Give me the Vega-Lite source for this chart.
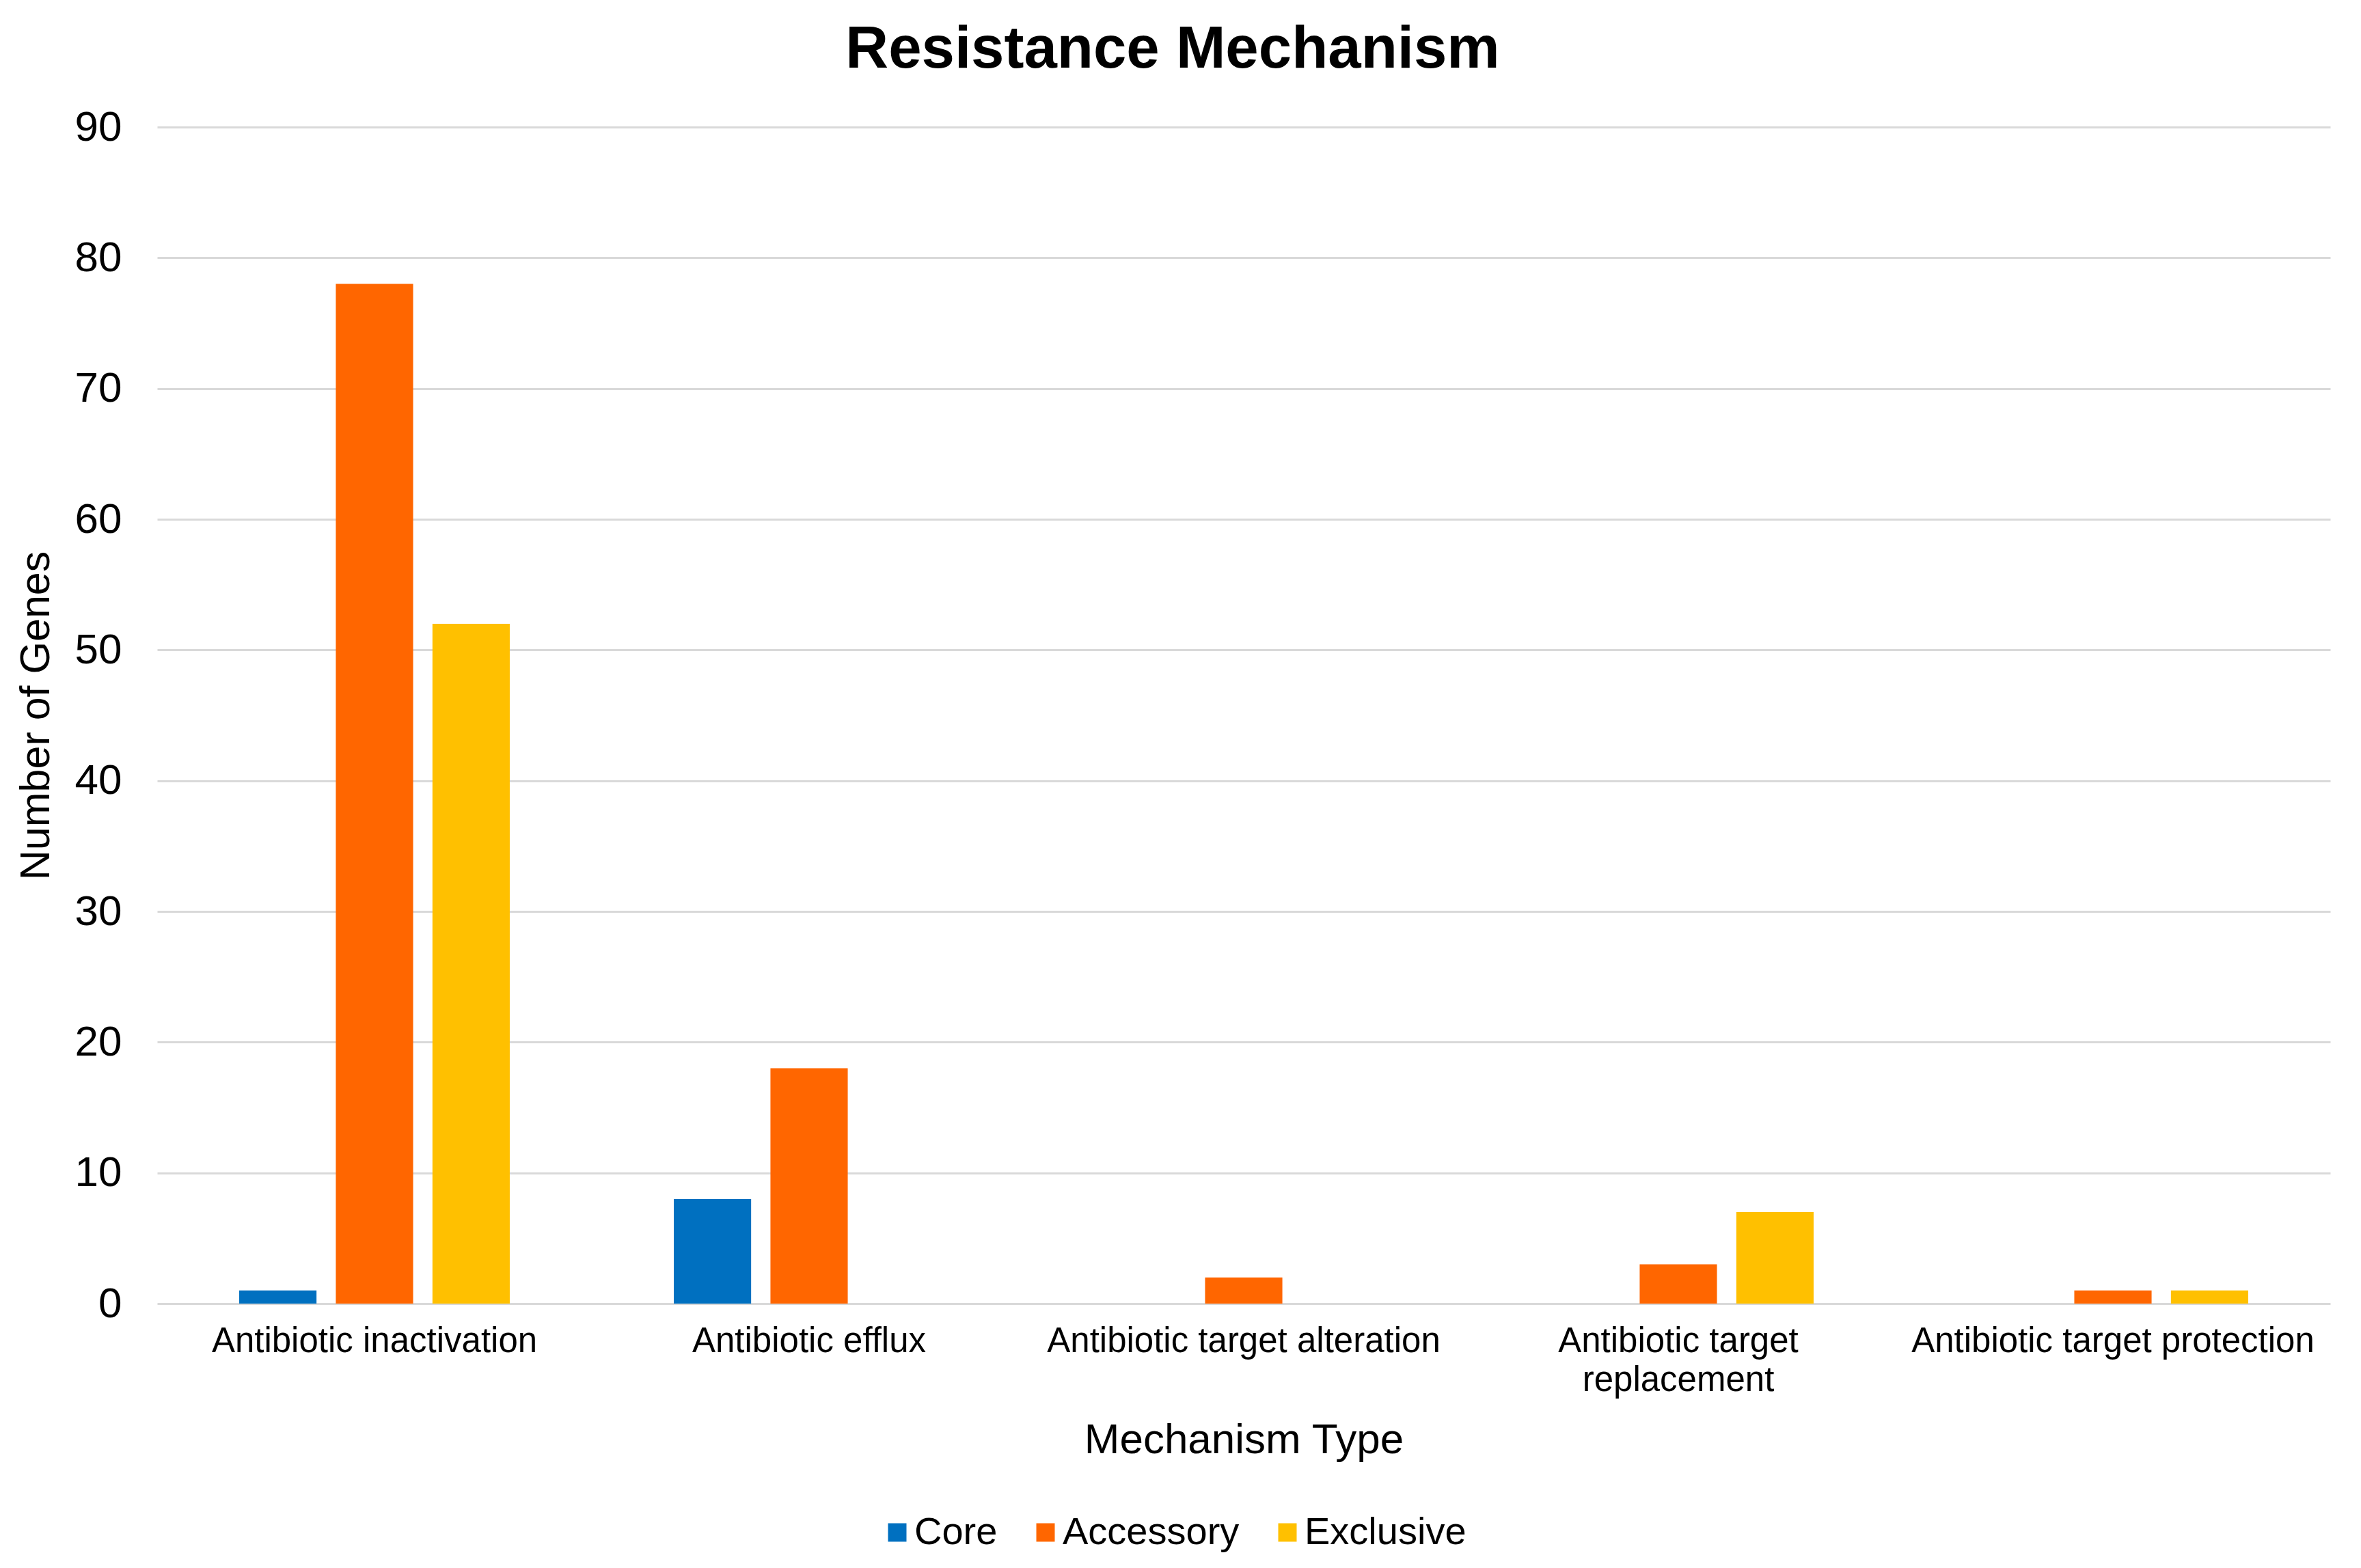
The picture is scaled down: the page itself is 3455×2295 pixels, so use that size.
{
  "$schema": "https://vega.github.io/schema/vega-lite/v6.json",
  "autosize": {"type": "none"},
  "padding": {"left": 230, "top": 186, "right": 45, "bottom": 387},
  "width": 3180,
  "height": 1722,
  "background": "white",
  "title": {
    "text": "Resistance Mechanism",
    "font": "Liberation Sans",
    "fontSize": 87,
    "fontWeight": "bold",
    "color": "#000000",
    "anchor": "middle",
    "frame": "bounds",
    "offset": 38
  },
  "data": {
    "values": [
      {"mechanism": "Antibiotic inactivation", "type": "Core", "genes": 1},
      {"mechanism": "Antibiotic inactivation", "type": "Accessory", "genes": 78},
      {"mechanism": "Antibiotic inactivation", "type": "Exclusive", "genes": 52},
      {"mechanism": "Antibiotic efflux", "type": "Core", "genes": 8},
      {"mechanism": "Antibiotic efflux", "type": "Accessory", "genes": 18},
      {"mechanism": "Antibiotic efflux", "type": "Exclusive", "genes": 0},
      {"mechanism": "Antibiotic target alteration", "type": "Core", "genes": 0},
      {"mechanism": "Antibiotic target alteration", "type": "Accessory", "genes": 2},
      {"mechanism": "Antibiotic target alteration", "type": "Exclusive", "genes": 0},
      {"mechanism": "Antibiotic target replacement", "type": "Core", "genes": 0},
      {"mechanism": "Antibiotic target replacement", "type": "Accessory", "genes": 3},
      {"mechanism": "Antibiotic target replacement", "type": "Exclusive", "genes": 7},
      {"mechanism": "Antibiotic target protection", "type": "Core", "genes": 0},
      {"mechanism": "Antibiotic target protection", "type": "Accessory", "genes": 1},
      {"mechanism": "Antibiotic target protection", "type": "Exclusive", "genes": 1}
    ]
  },
  "mark": {"type": "bar"},
  "encoding": {
    "x": {
      "field": "mechanism",
      "type": "nominal",
      "sort": ["Antibiotic inactivation", "Antibiotic efflux", "Antibiotic target alteration", "Antibiotic target replacement", "Antibiotic target protection"],
      "scale": {"paddingInner": 0.333, "paddingOuter": 0.1665},
      "axis": {
        "title": "Mechanism Type",
        "titleFont": "Liberation Sans",
        "titleFontSize": 62,
        "titleFontWeight": "normal",
        "titleColor": "#000000",
        "titlePadding": 32,
        "labelFont": "Liberation Sans",
        "labelFontSize": 51,
        "labelColor": "#000000",
        "labelAngle": 0,
        "labelPadding": 30,
        "labelLimit": 0,
        "labelLineHeight": 57,
        "labelExpr": "datum.label == 'Antibiotic target replacement' ? ['Antibiotic target', 'replacement'] : datum.label",
        "ticks": false,
        "domain": false,
        "grid": false
      }
    },
    "xOffset": {
      "field": "type",
      "type": "nominal",
      "sort": ["Core", "Accessory", "Exclusive"],
      "scale": {"paddingInner": 0.2, "paddingOuter": 0.1}
    },
    "y": {
      "field": "genes",
      "type": "quantitative",
      "scale": {"domain": [0, 90]},
      "axis": {
        "title": "Number of Genes",
        "titleFont": "Liberation Sans",
        "titleFontSize": 61,
        "titleFontWeight": "normal",
        "titleColor": "#000000",
        "titlePadding": 25,
        "values": [0, 10, 20, 30, 40, 50, 60, 70, 80, 90],
        "labelFont": "Liberation Sans",
        "labelFontSize": 62,
        "labelColor": "#000000",
        "labelPadding": 52,
        "ticks": false,
        "domain": false,
        "grid": true,
        "gridColor": "#D9D9D9",
        "gridWidth": 3
      }
    },
    "color": {
      "field": "type",
      "type": "nominal",
      "scale": {"domain": ["Core", "Accessory", "Exclusive"], "range": ["#0070C0", "#FF6600", "#FFC000"]},
      "legend": {
        "title": null,
        "orient": "none",
        "direction": "horizontal",
        "legendX": 1055,
        "legendY": 2029,
        "padding": 0,
        "symbolType": "square",
        "symbolSize": 729,
        "symbolStrokeWidth": 0,
        "labelFont": "Liberation Sans",
        "labelFontSize": 56,
        "labelColor": "#000000",
        "labelLimit": 0,
        "labelOffset": -3,
        "columnPadding": 42
      }
    }
  },
  "config": {"view": {"stroke": null}}
}
